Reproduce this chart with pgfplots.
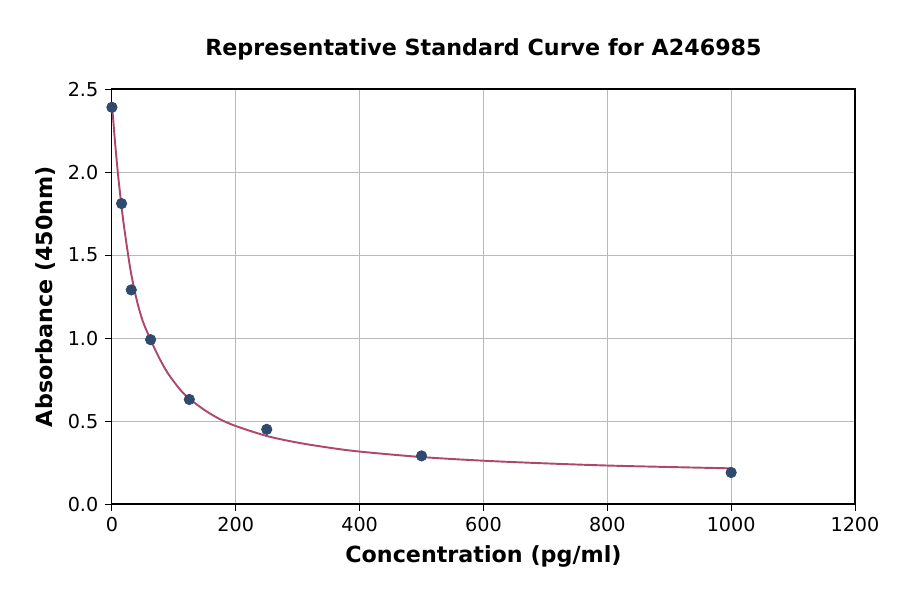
\documentclass[border=0pt]{standalone}
\usepackage{fontspec}
\setmainfont{DejaVu Sans}
\usepackage{pgfplots}
\pgfplotsset{compat=1.18}
\definecolor{ptcol}{RGB}{46,74,110}
\definecolor{fitcol}{RGB}{175,70,110}

\begin{document}
\begin{tikzpicture}
\begin{axis}[name=ax,
    scale only axis, width=386.4bp, height=215.8bp,
    xmin=0, xmax=1200, ymin=0, ymax=2.5,
    xtick={0,200,...,1200}, ytick={0,0.5,...,2.5},
    xticklabel style={/pgf/number format/1000 sep={}},
    yticklabel style={/pgf/number format/.cd,fixed,fixed zerofill,precision=1},
    /pgf/number format/assume math mode=true,
    ticklabel style={font=\fontsize{10}{12}\selectfont},
    tick align=outside, tick pos=left,
    major tick length=3.6bp,
    every tick/.style={black, line width=0.5bp},
    axis line style={line width=0.6bp},
    grid=major, major grid style={gray!55, line width=0.5bp},
    xlabel={\textbf{Concentration (pg/ml)}},
    ylabel={\textbf{Absorbance (450nm)}},
    xlabel style={font=\fontsize{11.6}{14}\selectfont, at={(axis description cs:0.5,0)}, anchor=center, yshift=-27bp},
    every axis y label/.style={font=\fontsize{11.6}{14}\selectfont, at={(axis description cs:0,0.5)}, xshift=-34.3bp, rotate=90, anchor=center},
    clip=false,
  ]
  % fitted curve
  \addplot[fitcol, line width=1bp, smooth] coordinates {
    (0,2.40) (2,2.32) (5,2.18) (10,1.98) (15,1.81) (20,1.66) (30,1.41)
    (40,1.23) (50,1.10) (62.5,0.99) (75,0.89) (90,0.79) (110,0.69)
    (125,0.635) (150,0.565) (175,0.51) (200,0.47) (250,0.41) (300,0.37)
    (350,0.34) (400,0.316) (500,0.283) (600,0.261) (700,0.245)
    (800,0.232) (900,0.223) (1000,0.215)
  };
  % standards
  \addplot[only marks, mark=*, mark size=2.7bp, ptcol, mark options={fill=ptcol, draw=ptcol}] coordinates {
    (0,2.39) (15.6,1.81) (31.25,1.29) (62.5,0.99) (125,0.63)
    (250,0.45) (500,0.29) (1000,0.19)
  };
\end{axis}
\node[font=\fontsize{11.6}{14}\selectfont\bfseries, anchor=center]
  at ([yshift=20.8bp]ax.north) {Representative Standard Curve for A246985};
\pgfresetboundingbox
\path[use as bounding box] ([xshift=-58.2bp,yshift=-46.8bp]ax.south west)
  rectangle ([xshift=23.4bp,yshift=46.3bp]ax.north east);
\end{tikzpicture}
\end{document}
